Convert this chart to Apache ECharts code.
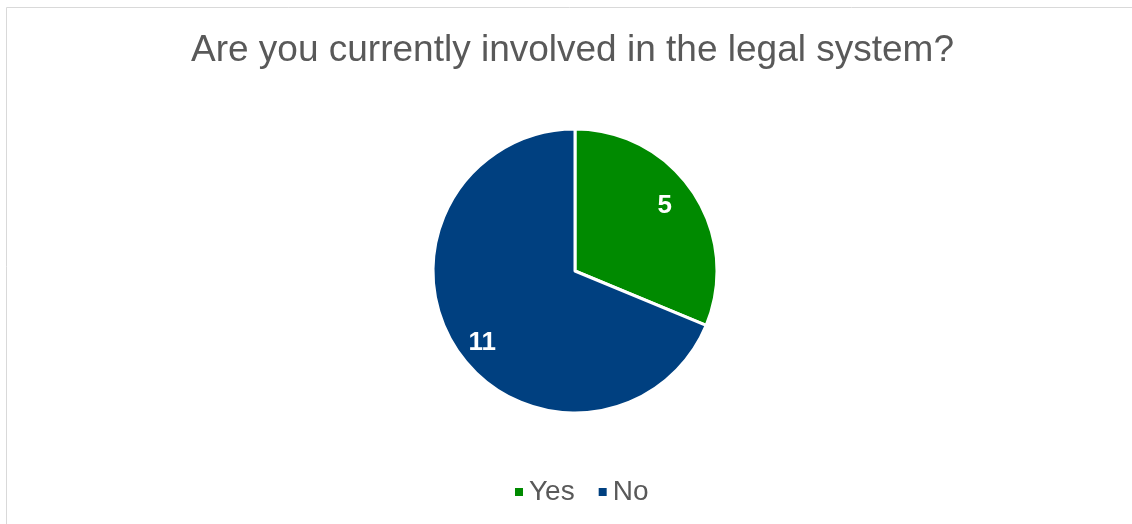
<!DOCTYPE html>
<html>
<head>
<meta charset="utf-8">
<script src="https://cdn.jsdelivr.net/npm/echarts@6/dist/echarts.min.js"></script>
<style>
  html, body { margin: 0; padding: 0; background: #fff; }
  #chart { width: 1132px; height: 524px; }
</style>
</head>
<body>
<div id="chart"></div>
<script>
var categories = ['Yes', 'No'];
var counts = [5, 11];
var colors = ['#008a00', '#004080'];
// small nudges so the data labels sit where Excel put them
var labelNudges = [[-5, -2], [2, 8]];

var chart = echarts.init(document.getElementById('chart'));

var pieData = categories.map(function (name, i) {
  return { name: name, value: counts[i], itemStyle: { color: colors[i] } };
});

var option = {
  animation: false,
  graphic: [{
    type: 'rect',
    shape: { x: 6.5, y: 7.5, width: 1140, height: 530 },
    style: { fill: 'none', stroke: '#d9d9d9', lineWidth: 1 },
    silent: true
  }],
  title: {
    text: 'Are you currently involved in the legal system?',
    left: 186,
    top: 27,
    textStyle: {
      fontFamily: 'Liberation Sans, Arial, sans-serif',
      fontSize: 37,
      fontWeight: 'normal',
      color: '#595959'
    }
  },
  legend: {
    data: categories,
    bottom: 13,
    left: 508,
    icon: 'rect',
    itemWidth: 10,
    itemHeight: 10,
    itemGap: 22,
    textStyle: {
      fontFamily: 'Liberation Sans, Arial, sans-serif',
      fontSize: 28,
      color: '#595959'
    }
  },
  series: [
    {
      type: 'pie',
      center: [575, 271],
      radius: [0, 142],
      startAngle: 90,
      clockwise: true,
      silent: true,
      label: { show: false },
      labelLine: { show: false },
      itemStyle: { borderColor: '#fff', borderWidth: 3 },
      data: pieData
    },
    {
      // label ring at Excel-like position
      type: 'pie',
      center: [575, 271],
      radius: [80, 142],
      startAngle: 90,
      clockwise: true,
      silent: true,
      itemStyle: { color: 'transparent', borderWidth: 0 },
      label: {
        show: true,
        position: 'inside',
        formatter: '{c}',
        color: '#fff',
        fontFamily: 'Liberation Sans, Arial, sans-serif',
        fontSize: 26,
        fontWeight: 'bold'
      },
      labelLine: { show: false },
      data: categories.map(function (name, i) {
        return { name: name, value: counts[i], label: { offset: labelNudges[i] } };
      })
    }
  ]
};

chart.setOption(option);
</script>
</body>
</html>
